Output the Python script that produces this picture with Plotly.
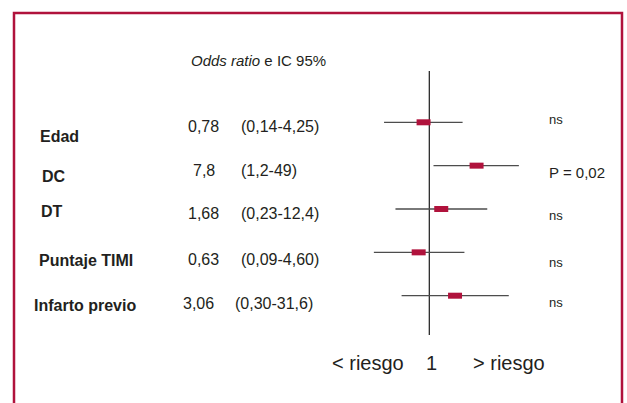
import plotly.graph_objects as go
import math

# ---- data ----
factors = ["Edad", "DC", "DT", "Puntaje TIMI", "Infarto previo"]
odds = [0.78, 7.8, 1.68, 0.63, 3.06]
ci_low = [0.14, 1.2, 0.23, 0.09, 0.30]
ci_high = [4.25, 49, 12.4, 4.60, 31.6]
or_labels = ["0,78", "7,8", "1,68", "0,63", "3,06"]
ci_labels = ["(0,14-4,25)", "(1,2-49)", "(0,23-12,4)", "(0,09-4,60)", "(0,30-31,6)"]
signif = ["ns", "P = 0,02", "ns", "ns", "ns"]

# ---- layout (pixels) ----
W, H = 627, 403
CRIMSON = "#B0123C"
TXT = "#231F20"
FONT = "Liberation Sans, Arial, sans-serif"
ref_px = 429.3          # x pixel of OR = 1
px_per_dec = 53.0
row0_px, row_step = 122.3, 43.35
label_x = [38, 40, 39, 37, 32]
label_y = [136, 176, 211.5, 260, 305.5]
or_x = [203.5, 204, 203.5, 203.5, 198.5]
val_y = [127, 170.5, 213, 259, 303]
ci_x = [239, 239, 239, 239, 233]
sig_x = 547
sig_y = [120, 172.7, 215.7, 262, 302]

def px(x):
    return x / W

def py(y):
    return 1 - y / H

rows = list(range(len(factors)))
xr = [math.log10(1) - ref_px / px_per_dec, (W - ref_px) / px_per_dec]
yr = [(H - row0_px) / row_step, -row0_px / row_step]

fig = go.Figure()
fig.add_trace(go.Scatter(
    x=odds, y=rows, mode="markers",
    marker=dict(symbol="line-ew", size=10, color=CRIMSON,
                line=dict(color=CRIMSON, width=6)),
    error_x=dict(type="data", symmetric=False,
                 array=[h - o for h, o in zip(ci_high, odds)],
                 arrayminus=[o - l for o, l in zip(odds, ci_low)],
                 width=0, thickness=1.3, color="#4D4D4D"),
    hoverinfo="skip", showlegend=False,
))

annotations = []
def ann(text, x, y, size, anchor="left", bold=False):
    annotations.append(dict(
        text=f"<b>{text}</b>" if bold else text,
        x=px(x), y=py(y), xref="paper", yref="paper",
        xanchor=anchor, yanchor="middle", showarrow=False,
        font=dict(family=FONT, size=size, color=TXT)))

for i in rows:
    ann(factors[i], label_x[i], label_y[i], 16, bold=True)
    ann(or_labels[i], or_x[i], val_y[i], 16, anchor="center")
    ann(ci_labels[i], ci_x[i], val_y[i], 16)
    ann(signif[i], sig_x, sig_y[i], 15 if signif[i] != "ns" else 13)

ann("<i>Odds ratio</i> e IC 95%", 189, 60.7, 15)
ann("&lt; riesgo", 330, 362.7, 20)
ann("1", 431, 362.7, 20, anchor="center")
ann("&gt; riesgo", 471.5, 362.7, 20)

shapes = [
    dict(type="line", xref="x", yref="paper", x0=1, x1=1,
         y0=py(71), y1=py(335), line=dict(color="#1A1A1A", width=1.2),
         layer="below"),
    dict(type="rect", xref="paper", yref="paper",
         x0=px(14), x1=px(622), y0=py(13), y1=py(420),
         line=dict(color=CRIMSON, width=2.5)),
]

fig.update_layout(
    width=W, height=H, autosize=False,
    margin=dict(l=0, r=0, t=0, b=0),
    paper_bgcolor="white", plot_bgcolor="white",
    xaxis=dict(type="log", range=xr, visible=False, fixedrange=True),
    yaxis=dict(range=yr, visible=False, fixedrange=True),
    annotations=annotations, shapes=shapes,
)

fig.write_html(
    "out.html",
    config={"displayModeBar": False},
    post_script="document.body.style.margin='0';document.body.style.overflow='hidden';",
)
